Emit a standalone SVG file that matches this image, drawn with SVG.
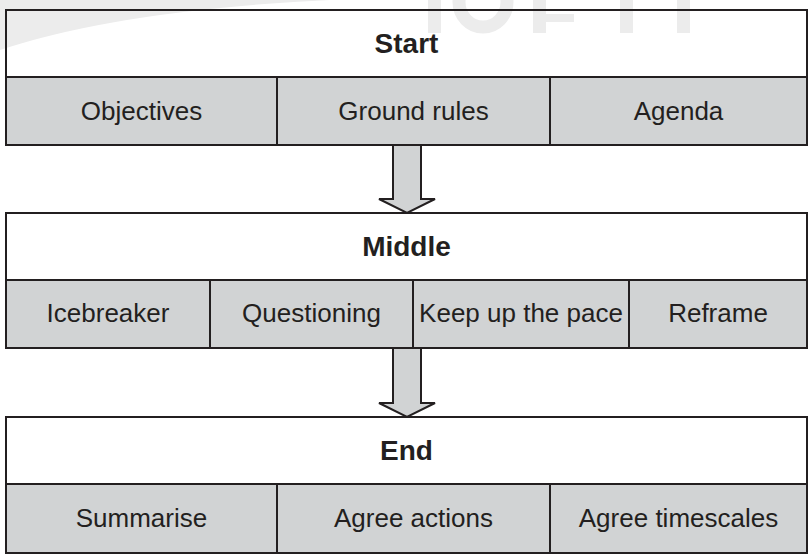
<svg xmlns="http://www.w3.org/2000/svg" width="810" height="556" viewBox="0 0 810 556">
  <style>
    .head { fill: none; stroke: #231f20; stroke-width: 2; }
    .cell { fill: #d1d3d4; stroke: #231f20; stroke-width: 2; }
    .title { font-family: "Liberation Sans", Arial, sans-serif; font-size: 28px; font-weight: bold; fill: #231f20; text-anchor: middle; }
    .label { font-family: "Liberation Sans", Arial, sans-serif; font-size: 26px; fill: #231f20; text-anchor: middle; }
    .arrow { fill: #d1d3d4; stroke: #231f20; stroke-width: 2; stroke-linejoin: miter; }
    .mark { fill: #ececec; }
    .mark-line { fill: none; stroke: #ececec; stroke-width: 13; }
  </style>

  <rect width="810" height="556" fill="#ffffff"/>

  <!-- faint background swoosh and letter strokes -->
  <g id="backdrop">
    <path class="mark" d="M0,0 L330,0 Q120,10 0,50 Z"/>
    <rect class="mark" x="428" y="0" width="13" height="33"/>
    <ellipse class="mark-line" cx="483" cy="2" rx="24" ry="25"/>
    <rect class="mark" x="533" y="0" width="13" height="33"/>
    <rect class="mark" x="546" y="14" width="28" height="8"/>
    <rect class="mark" x="620" y="0" width="13" height="33"/>
    <rect class="mark" x="677" y="0" width="13" height="33"/>
  </g>

  <!-- phase 1 -->
  <g id="start">
    <rect class="head" x="6" y="10" width="801" height="67"/>
    <text class="title" x="406.5" y="53">Start</text>
    <rect class="cell" x="6" y="77" width="271" height="68"/>
    <rect class="cell" x="277" y="77" width="273" height="68"/>
    <rect class="cell" x="550" y="77" width="257" height="68"/>
    <text class="label" x="141.5" y="120">Objectives</text>
    <text class="label" x="413.5" y="120">Ground rules</text>
    <text class="label" x="678.5" y="120">Agenda</text>
  </g>

  <!-- phase 2 -->
  <g id="middle">
    <rect class="head" x="6" y="213" width="801" height="67"/>
    <text class="title" x="406.5" y="256">Middle</text>
    <rect class="cell" x="6" y="280" width="204" height="68"/>
    <rect class="cell" x="210" y="280" width="203" height="68"/>
    <rect class="cell" x="413" y="280" width="216" height="68"/>
    <rect class="cell" x="629" y="280" width="178" height="68"/>
    <text class="label" x="108" y="322">Icebreaker</text>
    <text class="label" x="311.5" y="322">Questioning</text>
    <text class="label" x="521" y="322">Keep up the pace</text>
    <text class="label" x="718" y="322">Reframe</text>
  </g>

  <!-- phase 3 -->
  <g id="end">
    <rect class="head" x="6" y="417" width="801" height="67"/>
    <text class="title" x="406.5" y="460">End</text>
    <rect class="cell" x="6" y="484" width="271" height="69"/>
    <rect class="cell" x="277" y="484" width="273" height="69"/>
    <rect class="cell" x="550" y="484" width="257" height="69"/>
    <text class="label" x="141.5" y="527">Summarise</text>
    <text class="label" x="413.5" y="527">Agree actions</text>
    <text class="label" x="678.5" y="527">Agree timescales</text>
  </g>

  <!-- block arrows between phases -->
  <g id="connectors">
    <polygon class="arrow" points="393,145 393,199 379,199 407,213 435,199 421,199 421,145"/>
    <polygon class="arrow" points="393,348 393,403 379,403 407,417 435,403 421,403 421,348"/>
  </g>
</svg>
